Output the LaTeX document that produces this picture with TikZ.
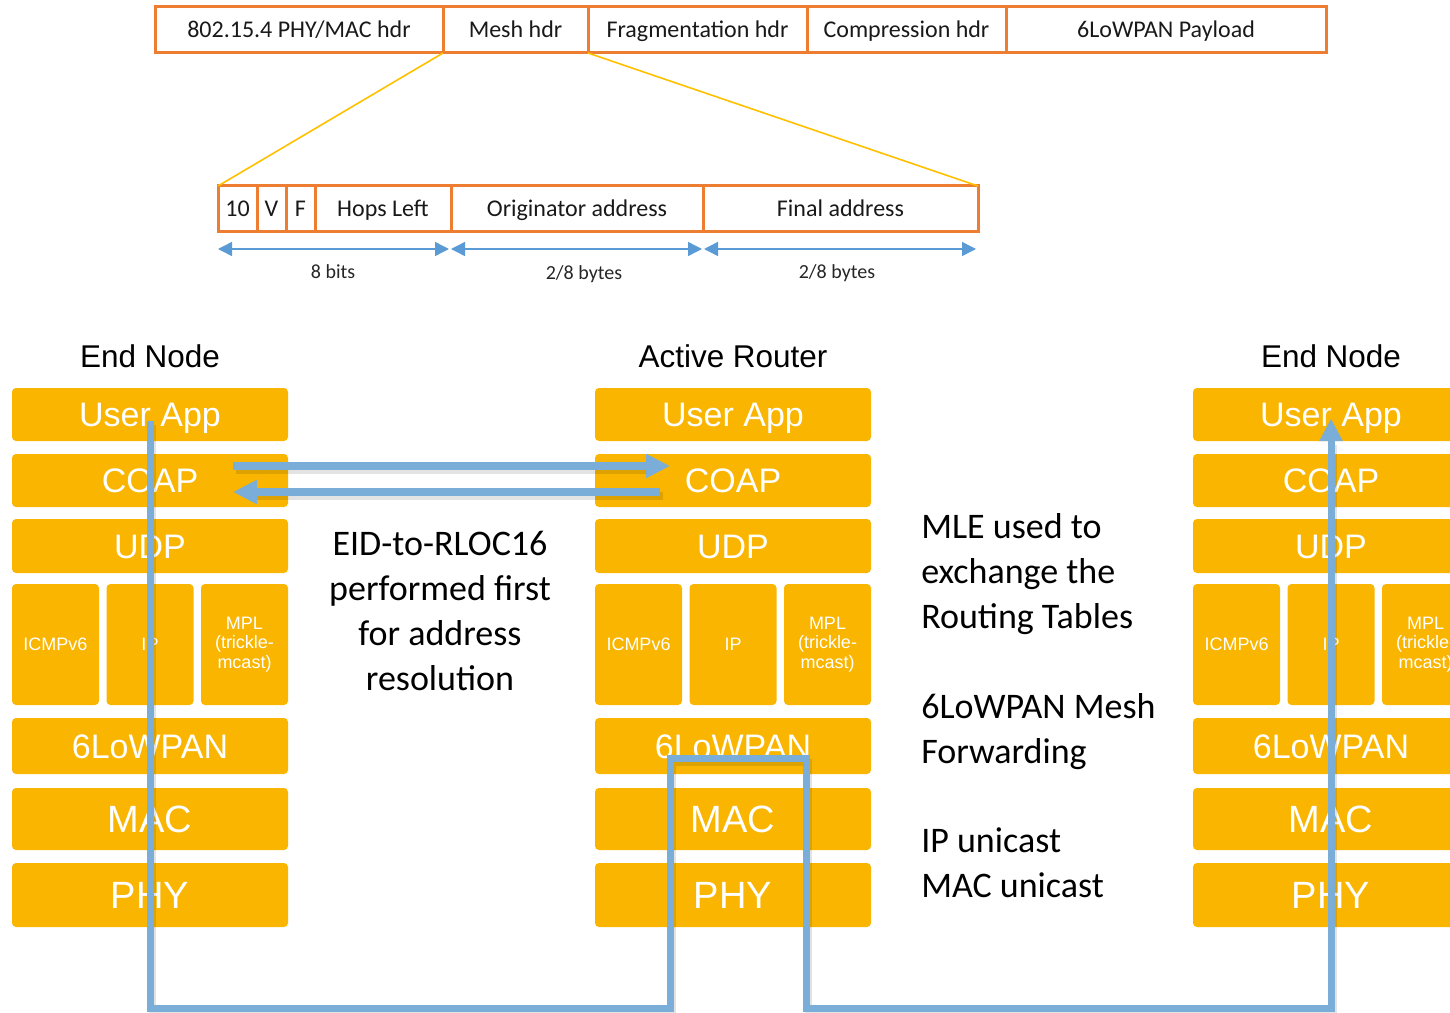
\documentclass[tikz,border=0pt]{standalone}
\usepackage{fontspec}
\setmainfont{Carlito}
\newfontfamily\arialfont{Liberation Sans}
\usetikzlibrary{arrows.meta,calc}

\definecolor{hdrorange}{RGB}{237,125,49}
\definecolor{zoomgold}{RGB}{255,192,0}
\definecolor{dimblue}{RGB}{91,155,213}
\definecolor{layerfill}{RGB}{249,181,0}
\definecolor{flowblue}{RGB}{122,174,216}

% box given by its corners (x1,y1)-(x2,y2) in pixel units
\newcommand\pbox[7]{%
  \node[#1,minimum width={((#5)-(#3))*0.75pt},minimum height={((#6)-(#4))*0.75pt}]
    (#2) at ({((#3)+(#5))/2},{((#4)+(#6))/2}) {#7};}

% one protocol stack, #1 = name prefix, #2 = left edge
\newcommand\protostack[2]{%
  \pbox{layer}{#1-app}{#2}{388}{#2+276}{441}{User App}
  \pbox{layer}{#1-coap}{#2}{454}{#2+276}{507}{COAP}
  \pbox{layer}{#1-udp}{#2}{519}{#2+276}{573}{UDP}
  \pbox{sublayer}{#1-icmp}{#2}{584}{#2+87}{705}{ICMPv6}
  \pbox{sublayer}{#1-ip}{#2+94.5}{584}{#2+181.5}{705}{IP}
  \pbox{sublayer}{#1-mpl}{#2+189}{584}{#2+276}{705}{MPL\\(trickle-\\mcast)}
  \pbox{layer}{#1-lowpan}{#2}{718}{#2+276}{774}{6LoWPAN}
  \pbox{biglayer}{#1-mac}{#2}{788}{#2+276}{850}{MAC}
  \pbox{biglayer}{#1-phy}{#2}{863}{#2+276}{927}{PHY}}

\begin{document}
\begin{tikzpicture}[x=0.75pt,y=-0.75pt,
  hdrcell/.style={draw=hdrorange,line width=2.25pt,inner sep=0pt,outer sep=0pt,
    text=black!90,font=\fontsize{18}{21}\selectfont,text height=11.6pt,text depth=0pt},
  dimlabel/.style={text=black!85,font=\fontsize{15}{18}\selectfont,text height=9.7pt,text depth=0pt},
  zoomline/.style={draw=zoomgold,line width=1.2pt},
  dimarrow/.style={draw=dimblue,line width=1.1pt,
    {Triangle[width=10.5pt,length=10.5pt]}-{Triangle[width=10.5pt,length=10.5pt]}},
  layer/.style={fill=layerfill,rounded corners=3pt,text=white,inner sep=0pt,outer sep=0pt,
    font=\arialfont\fontsize{25.5}{30}\selectfont,text height=18.3pt,text depth=0pt},
  biglayer/.style={layer,font=\arialfont\fontsize{28.5}{34}\selectfont,text height=20.4pt},
  sublayer/.style={fill=layerfill,rounded corners=3pt,text=white,inner sep=0pt,outer sep=0pt,
    font=\arialfont\fontsize{13.5}{14.5}\selectfont,align=center},
  stacktitle/.style={font=\arialfont\fontsize{23.6}{27}\selectfont,text=black},
  note/.style={font=\fontsize{27}{33.75}\selectfont,text=black,inner sep=0pt},
  flow/.style={draw=flowblue,line width=5.25pt,line join=miter},
  coaparrow/.style={draw=flowblue,line width=6pt,-{Triangle[width=17pt,length=18pt]}},
  shade/.style={draw=black,opacity=0.11,transform canvas={shift={(2.5,4)}}},
]
\useasboundingbox (0,0) rectangle (1450,1013);
\clip (0,0) rectangle (1450,1013);

% ---- 6LoWPAN frame ----
\pbox{hdrcell}{h1}{155}{7}{443}{53}{802.15.4 PHY/MAC hdr}
\pbox{hdrcell}{h2}{443}{7}{588}{53}{Mesh hdr}
\pbox{hdrcell}{h3}{588}{7}{807}{53}{Fragmentation hdr}
\pbox{hdrcell}{h4}{807}{7}{1006}{53}{Compression hdr}
\pbox{hdrcell}{h5}{1006}{7}{1326}{53}{6LoWPAN Payload}

% ---- mesh header detail ----
\pbox{hdrcell}{m1}{218}{186}{257}{232}{10}
\pbox{hdrcell}{m2}{257}{186}{286}{232}{V}
\pbox{hdrcell}{m3}{286}{186}{315}{232}{F}
\pbox{hdrcell}{m4}{315}{186}{451}{232}{Hops Left}
\pbox{hdrcell}{m5}{451}{186}{703}{232}{Originator address}
\pbox{hdrcell}{m6}{703}{186}{978}{232}{Final address}

\draw[zoomline] (h2.south west) -- (m1.north west);
\draw[zoomline] (h2.south east) -- (m6.north east);

% field sizes
\draw[dimarrow] ($(m1.south west)+(0,17)$) -- ($(m4.south east)+(-2,17)$);
\draw[dimarrow] ($(m5.south west)+(0,17)$) -- ($(m5.south east)+(-1,17)$);
\draw[dimarrow] ($(m6.south west)+(1,17)$) -- ($(m6.south east)+(-2,17)$);
\node[dimlabel] (d1) at (333,272) {8 bits};
\node[dimlabel] (d2) at (584,273) {2/8 bytes};
\node[dimlabel] (d3) at (837,272) {2/8 bytes};

% ---- protocol stacks ----
\node[stacktitle] (tl) at (150,356) {End Node};
\node[stacktitle] (tm) at (733,356) {Active Router};
\node[stacktitle] (tr) at (1331,356) {End Node};

\protostack{L}{12}
\protostack{M}{595}
\protostack{R}{1193}

% ---- explanations ----
\node[note,align=center] (eid) at (440,611) {EID-to-RLOC16\\performed first\\for address\\resolution};
\node[note,align=left,anchor=north west] (mle) at (921,513) {MLE used to\\exchange the\\Routing Tables};
\node[note,align=left,anchor=north west] (mesh) at (921,693) {6LoWPAN Mesh\\Forwarding};
\node[note,align=left,anchor=north west] (uni) at (921,827) {IP unicast\\MAC unicast};

% ---- address resolution exchange ----
\coordinate (qa) at (233,466);
\coordinate (qb) at (670,466);
\coordinate (ra) at (660,492);
\coordinate (rb) at (233,492);
\draw[shade,line width=6pt] (qa) -- ($(qb)+(-20,0)$);
\draw[shade,line width=6pt] (ra) -- ($(rb)+(20,0)$);
\draw[coaparrow] (qa) -- (qb);
\draw[coaparrow] (ra) -- (rb);

% ---- data path through the mesh ----
\coordinate (base) at (0,1008);
\coordinate (hopin) at (670,758);
\coordinate (hopout) at (806,758);
\draw[shade,line width=5.25pt]
  ([yshift=-4.5pt]L-app.center) -- (L-app.center |- base) -- (hopin |- base) -- (hopin)
  -- (hopout) -- (hopout |- base) -- (R-app.center |- base) -- ([yshift=-20pt]R-app.center);
\draw[flow,-{Triangle[width=16.5pt,length=17pt]}]
  ([yshift=-4.5pt]L-app.center) -- (L-app.center |- base) -- (hopin |- base) -- (hopin)
  -- (hopout) -- (hopout |- base) -- (R-app.center |- base) -- ([yshift=-3pt]R-app.center);
\end{tikzpicture}
\end{document}
